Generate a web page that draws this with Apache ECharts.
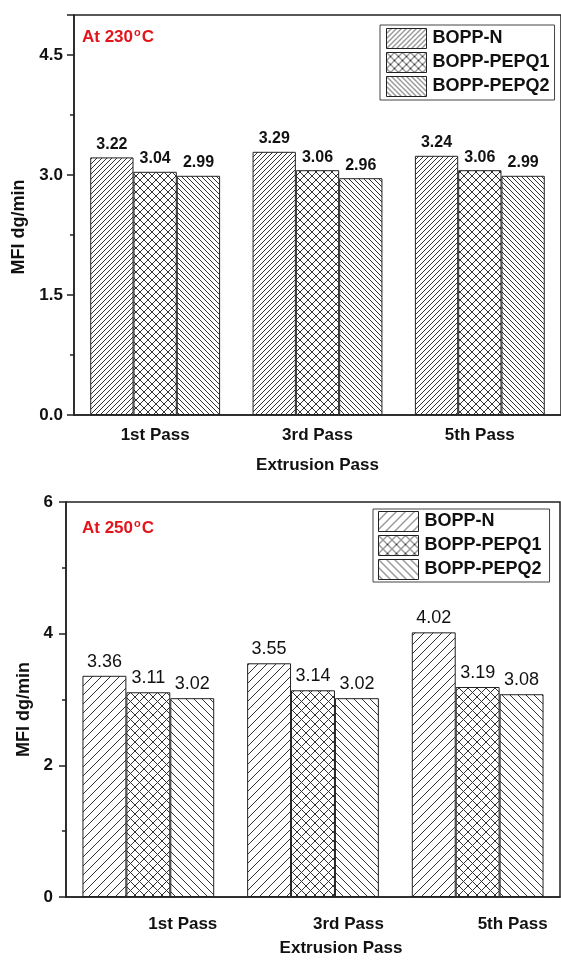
<!DOCTYPE html>
<html>
<head>
<meta charset="utf-8">
<script src="https://cdn.jsdelivr.net/npm/echarts@6/dist/echarts.min.js"></script>
<style>
html,body{margin:0;padding:0;background:#fff;}
#c1,#c2{width:561px;height:481px;}
</style>
</head>
<body>
<div id="c1"></div>
<div id="c2"></div>
<script>
// ---- data ----
const categories = ['1st Pass', '3rd Pass', '5th Pass'];
const seriesNames = ['BOPP-N', 'BOPP-PEPQ1', 'BOPP-PEPQ2'];
// At 230 °C
const t230_N = [3.22, 3.29, 3.24];
const t230_Q1 = [3.04, 3.06, 3.06];
const t230_Q2 = [2.99, 2.96, 2.99];
// At 250 °C
const t250_N = [3.36, 3.55, 4.02];
const t250_Q1 = [3.11, 3.14, 3.19];
const t250_Q2 = [3.02, 3.02, 3.08];
const xTitle = 'Extrusion Pass';
const yTitle = 'MFI dg/min';

// ---- styles ----
const FONT = '"Liberation Sans", Arial, sans-serif';
const AX = '#222';

function hatch(size, kinds, color, lw) {
  const c = document.createElement('canvas');
  c.width = size; c.height = size;
  const g = c.getContext('2d');
  g.fillStyle = '#fff'; g.fillRect(0, 0, size, size);
  g.strokeStyle = color; g.lineWidth = lw;
  g.beginPath();
  if (kinds.indexOf('/') >= 0) {
    g.moveTo(0, size); g.lineTo(size, 0);
    g.moveTo(-1, 1); g.lineTo(1, -1);
    g.moveTo(size - 1, size + 1); g.lineTo(size + 1, size - 1);
  }
  if (kinds.indexOf('\\') >= 0) {
    g.moveTo(0, 0); g.lineTo(size, size);
    g.moveTo(-1, size - 1); g.lineTo(1, size + 1);
    g.moveTo(size - 1, -1); g.lineTo(size + 1, 1);
  }
  g.stroke();
  return { image: c, repeat: 'repeat' };
}

function makeOption(cfg) {
  const pats = cfg.patterns;
  const vals = cfg.values;
  return {
    animation: false,
    backgroundColor: '#fff',
    title: {
      text: '{a|At ' + cfg.temp + '}{s|o}{a|C}',
      left: cfg.titleLeft, top: cfg.titleTop, padding: 0,
      textStyle: {
        rich: {
          a: { color: '#e3151c', fontSize: 17, fontWeight: 'bold', fontFamily: FONT, lineHeight: 20 },
          s: { color: '#e3151c', fontSize: 11, fontWeight: 'bold', fontFamily: FONT, verticalAlign: 'top', lineHeight: 11, padding: [0, 1, 0, 1] }
        }
      }
    },
    legend: {
      orient: 'vertical',
      left: cfg.legendLeft, top: cfg.legendTop,
      icon: 'rect', itemWidth: 40, itemHeight: 20, itemGap: cfg.legendGap,
      padding: cfg.legendPadding,
      borderColor: '#444', borderWidth: 1,
      textStyle: { color: '#111', fontSize: 18, fontWeight: 'bold', fontFamily: FONT, padding: [0, 0, 0, 1] },
      itemStyle: { borderColor: '#222', borderWidth: 1 },
      data: seriesNames
    },
    grid: {
      left: cfg.grid[0], right: cfg.grid[1], top: cfg.grid[2], bottom: cfg.grid[3],
      show: true, borderColor: AX, borderWidth: 1.5, containLabel: false
    },
    xAxis: [{
      type: 'category', data: categories, position: 'bottom',
      boundaryGap: true,
      axisLine: { lineStyle: { color: AX, width: 1.5 } },
      axisTick: { alignWithLabel: true, length: 8, lineStyle: { color: AX, width: 1.5 } },
      axisLabel: {
        color: '#111', fontSize: 17, fontWeight: 'bold', fontFamily: FONT,
        margin: cfg.xLabelMargin, align: cfg.xLabelAlign
      },
      name: xTitle, nameLocation: 'middle', nameGap: cfg.xNameGap,
      nameTextStyle: { color: '#111', fontSize: 17, fontWeight: 'bold', fontFamily: FONT, padding: cfg.xNamePad }
    }, {
      type: 'category', data: categories, position: 'bottom', offset: 0,
      boundaryGap: true,
      axisLine: { show: false },
      axisTick: { alignWithLabel: false, length: 4, lineStyle: { color: AX, width: 1.5 } },
      axisLabel: { show: false }
    }],
    yAxis: {
      type: 'value', min: 0, max: cfg.yMax, interval: cfg.yInterval,
      axisLine: { show: true, lineStyle: { color: AX, width: 1.5 } },
      axisTick: { show: true, length: 7, lineStyle: { color: AX, width: 1.5 } },
      minorTick: { show: true, splitNumber: 2, length: 4, lineStyle: { color: AX, width: 1.5 } },
      splitLine: { show: false },
      axisLabel: {
        color: '#111', fontSize: 17, fontWeight: 'bold', fontFamily: FONT, margin: cfg.yLabelMargin,
        showMaxLabel: cfg.showMaxLabel,
        formatter: v => v.toFixed(cfg.yDecimals)
      },
      name: yTitle, nameLocation: 'middle', nameGap: cfg.yNameGap, nameRotate: 90,
      nameTextStyle: { color: '#111', fontSize: 18, fontWeight: 'bold', fontFamily: FONT, padding: cfg.yNamePad }
    },
    series: seriesNames.map((n, i) => ({
      name: n, type: 'bar', xAxisIndex: 0,
      data: vals[i],
      barGap: '0%', barCategoryGap: '20%',
      itemStyle: { color: pats[i], borderColor: '#222', borderWidth: 1 },
      label: {
        show: true, position: 'top', distance: cfg.labelDist,
        color: '#111', fontSize: cfg.labelSize, fontWeight: cfg.labelWeight, fontFamily: FONT,
        formatter: p => p.value.toFixed(2)
      }
    }))
  };
}

const c1 = echarts.init(document.getElementById('c1'), null, { renderer: 'canvas' });
c1.setOption(makeOption({
  temp: '230',
  titleLeft: 82, titleTop: 27,
  legendLeft: 380, legendTop: 25, legendGap: 3, legendPadding: [3, 5, 3, 6],
  grid: [74, -1, 15, 66],
  xLabelMargin: 12, xLabelAlign: 'center', xNameGap: 42, xNamePad: [0, 0, 0, 0],
  yMax: 5, yInterval: 1.5, yDecimals: 1, showMaxLabel: false, yLabelMargin: 11,
  yNameGap: 44, yNamePad: [0, 24, 0, 0],
  values: [t230_N, t230_Q1, t230_Q2],
  patterns: [hatch(5, '/', '#333', 1), hatch(8, '/\\', '#333', 1), hatch(5, '\\', '#333', 1)],
  labelDist: 5, labelSize: 16, labelWeight: 'bold'
}));

const c2 = echarts.init(document.getElementById('c2'), null, { renderer: 'canvas' });
c2.setOption(makeOption({
  temp: '250',
  titleLeft: 82, titleTop: 37,
  legendLeft: 373, legendTop: 28, legendGap: 3, legendPadding: [2, 8, 2, 5],
  grid: [66, 1, 21, 59],
  xLabelMargin: 19, xLabelAlign: 'left', xNameGap: 43, xNamePad: [0, 0, 0, 56],
  yMax: 6, yInterval: 2, yDecimals: 0, showMaxLabel: true, yLabelMargin: 13,
  yNameGap: 32, yNamePad: [0, 20, 0, 0],
  values: [t250_N, t250_Q1, t250_Q2],
  patterns: [hatch(9, '/', '#333', 1), hatch(9, '/\\', '#333', 1), hatch(8, '\\', '#333', 1)],
  labelDist: 5, labelSize: 18, labelWeight: 'normal'
}));
</script>
</body>
</html>
